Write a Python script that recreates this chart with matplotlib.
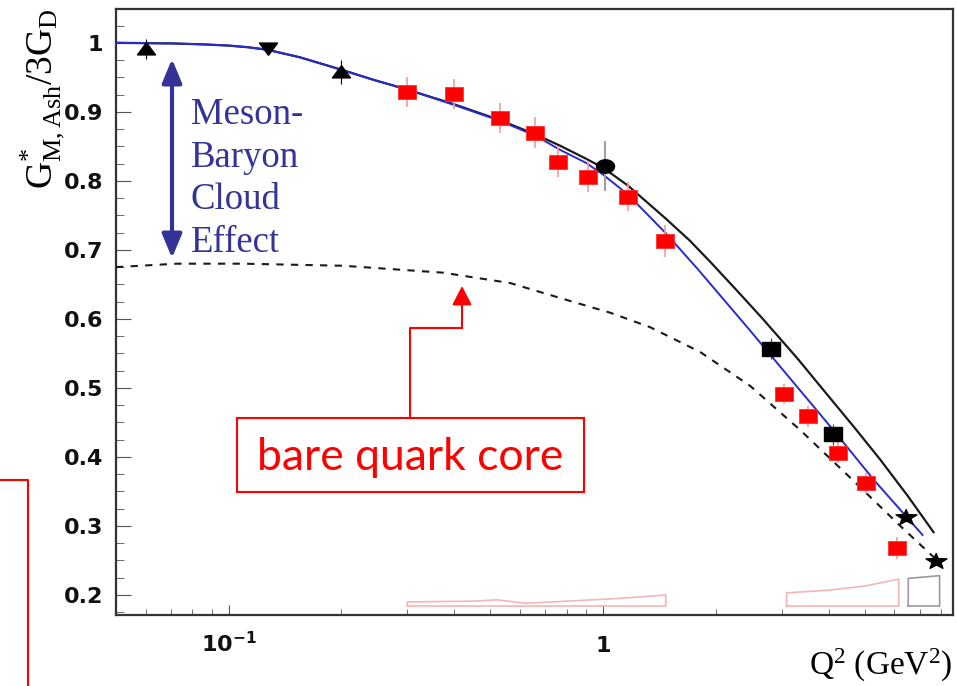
import numpy as np
import matplotlib.pyplot as plt
from matplotlib.patches import Rectangle
from matplotlib.lines import Line2D
from matplotlib.ticker import FixedLocator, MultipleLocator, LogLocator, NullFormatter

plt.rcParams['mathtext.fontset'] = 'custom'
plt.rcParams['mathtext.rm'] = 'Liberation Serif'
plt.rcParams['mathtext.it'] = 'Liberation Serif:italic'
plt.rcParams['mathtext.bf'] = 'DejaVu Sans:bold'

# --- data points ---
# MAMI / Bates (triangles)
q2_tri = [0.060, 0.200]
g_tri = [0.991, 0.958]
e_tri = [0.014, 0.017]
q2_tri_dn = [0.127]
g_tri_dn = [0.992]

# CLAS (red squares)
q2_clas = [0.30, 0.40, 0.53, 0.658, 0.758, 0.912, 1.166, 1.466, 3.05, 3.53, 4.25, 5.05, 6.11]
g_clas = [0.929, 0.926, 0.891, 0.870, 0.828, 0.806, 0.777, 0.713, 0.491, 0.459, 0.406, 0.362, 0.268]
e_clas = [0.022, 0.022, 0.022, 0.022, 0.022, 0.022, 0.021, 0.023, 0.015, 0.015, 0.015, 0.015, 0.016]

# Hall A (circle)
q2_halla = [1.01]
g_halla = [0.822]
e_halla = [0.036]

# Hall C (black squares)
q2_hallc = [2.80, 4.10]
g_hallc = [0.557, 0.433]
e_hallc = [0.015, 0.015]

# SLAC (stars)
q2_slac = [6.46, 7.77]
g_slac = [0.313, 0.249]

# --- model curves ---
q2_full = [0.05, 0.0706, 0.085, 0.10, 0.113, 0.127, 0.155, 0.20, 0.245, 0.301, 0.40, 0.53,
           0.662, 0.767, 0.901, 1.00, 1.166, 1.465, 1.70, 1.93, 2.26, 2.66, 3.3, 4.0, 4.7, 5.5,
           6.5, 7.63]
g_full = [1.000, 0.9991, 0.9978, 0.996, 0.9935, 0.9899, 0.979, 0.961, 0.946, 0.932, 0.911,
          0.888, 0.867, 0.851, 0.832, 0.819, 0.793, 0.746, 0.714, 0.683, 0.643, 0.601, 0.543,
          0.488, 0.442, 0.396, 0.344, 0.291]

q2_fit = [0.05, 0.0706, 0.085, 0.10, 0.113, 0.127, 0.155, 0.20, 0.245, 0.301, 0.40, 0.53,
          0.662, 0.767, 0.901, 1.00, 1.166, 1.465, 1.784, 2.10, 2.47, 3.2, 4.09, 5.3, 7.13]
g_fit = [1.000, 0.9991, 0.9978, 0.996, 0.9935, 0.9899, 0.979, 0.961, 0.946, 0.932, 0.910,
         0.887, 0.865, 0.845, 0.826, 0.809, 0.780, 0.725, 0.673, 0.628, 0.583, 0.510, 0.441,
         0.366, 0.287]

q2_bare = [0.05, 0.0726, 0.109, 0.202, 0.373, 0.564, 0.852, 1.044, 1.335, 1.817, 2.47, 3.36,
           4.57, 6.22, 7.77]
g_bare = [0.675, 0.680, 0.680, 0.677, 0.667, 0.652, 0.623, 0.609, 0.588, 0.552, 0.503, 0.439,
          0.370, 0.300, 0.251]

# --- systematic error bands ---
band1_x = [0.30, 0.30, 0.45, 0.52, 0.62, 0.80, 1.10, 1.47, 1.47, 0.30]
band1_y = [0.184, 0.190, 0.191, 0.193, 0.188, 0.191, 0.195, 0.200, 0.184, 0.184]
band2_x = [3.09, 3.09, 4.0, 5.0, 6.16, 6.16, 3.09]
band2_y = [0.184, 0.203, 0.207, 0.213, 0.223, 0.184, 0.184]
band3_x = [6.53, 6.53, 7.92, 7.92, 6.53]
band3_y = [0.184, 0.224, 0.228, 0.184, 0.184]

W, H = 957, 686
fig = plt.figure(figsize=(W / 100, H / 100), dpi=100)
ax = fig.add_axes([116 / W, 1 - 615 / H, (953 - 116) / W, (615 - 9) / H])


def px(x, y):
    return (x / W, 1 - y / H)


# stretched marker shapes (the plot is wider than tall)
sx = 1.3
m_square = [(-sx, -1), (sx, -1), (sx, 1), (-sx, 1), (-sx, -1)]
m_tri_up = [(0, 0.95), (-1.25, -0.75), (1.25, -0.75), (0, 0.95)]
m_tri_dn = [(0, -0.95), (-1.25, 0.75), (1.25, 0.75), (0, -0.95)]
t = np.linspace(0, 2 * np.pi, 40)
m_ellipse = list(zip(1.35 * np.cos(t), np.sin(t)))
ang = np.pi / 2 + np.arange(10) * np.pi / 5
rad = np.where(np.arange(10) % 2 == 0, 1.0, 0.42)
m_star = list(zip(sx * rad * np.cos(ang), rad * np.sin(ang)))

# bands
ax.plot(band1_x, band1_y, color='#f5b5b5', lw=1.2)
ax.plot(band2_x, band2_y, color='#f5b5b5', lw=1.2)
ax.plot(band3_x, band3_y, color='#9a9a9a', lw=1.2)

# curves
ax.plot(q2_full, g_full, color='#1a1a1a', lw=1.6, zorder=3)
ax.plot(q2_fit, g_fit, color='#2a2ad0', lw=1.4, zorder=3)
ax.plot(q2_bare, g_bare, color='#1a1a1a', lw=1.5, ls=(0, (3.5, 3.5)), zorder=3)

# data
ax.errorbar(q2_clas, g_clas, yerr=e_clas, fmt='none', ecolor='#f59a9a', elinewidth=1.2, zorder=4)
ax.plot(q2_clas, g_clas, ls='none', marker=m_square, ms=13, mfc='#ff0000', mec='#ff3030',
        mew=0.6, zorder=5)
ax.errorbar(q2_halla, g_halla, yerr=e_halla, fmt='none', ecolor='#a0a0a0', elinewidth=1.5, zorder=4)
ax.plot(q2_halla, g_halla, ls='none', marker=m_ellipse, ms=13, color='black', zorder=5)
ax.errorbar(q2_tri, g_tri, yerr=e_tri, fmt='none', ecolor='black', elinewidth=0.8, zorder=4)
ax.plot(q2_tri, g_tri, ls='none', marker=m_tri_up, ms=13, color='black', zorder=5)
ax.plot(q2_tri_dn, g_tri_dn, ls='none', marker=m_tri_dn, ms=13, color='black', zorder=5)
ax.errorbar(q2_hallc, g_hallc, yerr=e_hallc, fmt='none', ecolor='#404040', elinewidth=0.8, zorder=4)
ax.plot(q2_hallc, g_hallc, ls='none', marker=m_square, ms=13, color='black', zorder=5)
ax.plot(q2_slac, g_slac, ls='none', marker=m_star, ms=15, color='black', zorder=5)

# axes
ax.set_xscale('log')
ax.set_xlim(0.05, 8.6)
ax.set_ylim(0.171, 1.049)
ax.xaxis.set_major_locator(FixedLocator([0.1, 1]))
ax.set_xticklabels([r'$\mathbf{10^{-1}}$', r'$\mathbf{1}$'])
ax.xaxis.set_minor_locator(LogLocator(base=10, subs=np.arange(2, 10)))
ax.xaxis.set_minor_formatter(NullFormatter())
ax.yaxis.set_major_locator(FixedLocator([0.2, 0.3, 0.4, 0.5, 0.6, 0.7, 0.8, 0.9, 1.0]))
ax.set_yticklabels(['0.2', '0.3', '0.4', '0.5', '0.6', '0.7', '0.8', '0.9', '1'])
ax.yaxis.set_minor_locator(MultipleLocator(0.025))
ax.tick_params(axis='both', which='both', direction='in', colors='#555555',
               top=False, right=False, labelcolor='#111111')
ax.tick_params(axis='y', which='major', length=11, width=0.8, pad=9, labelsize=16)
ax.tick_params(axis='y', which='minor', length=5.5, width=0.6)
ax.tick_params(axis='x', which='major', length=7, width=0.8, pad=27, labelsize=16)
ax.tick_params(axis='x', which='minor', length=4.5, width=0.6)
for lbl in ax.get_yticklabels():
    lbl.set_fontweight('bold')
for lbl in ax.get_xticklabels():
    lbl.set_va('baseline')
for s in ax.spines.values():
    s.set_color('#333333')
    s.set_linewidth(1.6)

fig.text(*px(42, 8), r'$\mathrm{G^{*}_{M,Ash}/3G_{D}}$', rotation=90, ha='center', va='top',
         fontsize=27)
fig.text(*px(952, 665), r'$\mathrm{Q^{2}\ (GeV^{2})}$', ha='right', va='center', fontsize=24)

# meson cloud arrow and label
blue = '#333399'
for y0, y1 in [(158, 59), (158, 258)]:
    ax.annotate('', xy=(172, H - y1), xytext=(172, H - y0), xycoords='figure pixels',
                textcoords='figure pixels',
                arrowprops=dict(arrowstyle='-|>,head_length=0.72,head_width=0.3',
                                mutation_scale=20, lw=3, color=blue,
                                shrinkA=0, shrinkB=0))
fig.text(*px(191, 98), 'Meson-\nBaryon\nCloud\nEffect', ha='left', va='top', color=blue,
         fontsize=26.5, family='Liberation Serif', linespacing=1.3)

# bare quark core callout
red = '#ff0000'
fig.add_artist(Rectangle(px(237, 492), (584 - 237) / W, (492 - 418) / H,
                         transform=fig.transFigure, fill=False, ec=red, lw=1.5))
fig.text(*px(410, 457), 'bare quark core', ha='center', va='center', color=red,
         fontsize=32, family='Lato')
fig.add_artist(Line2D([410 / W, 410 / W, 462 / W], [1 - 418 / H, 1 - 328 / H, 1 - 328 / H],
                      transform=fig.transFigure, color=red, lw=1.5))
ax.annotate('', xy=(462, H - 286), xytext=(462, H - 328), xycoords='figure pixels',
            textcoords='figure pixels',
            arrowprops=dict(arrowstyle='-|>,head_length=0.58,head_width=0.3',
                            mutation_scale=20, lw=1.5, color=red, shrinkA=0, shrinkB=0))

# partial frame at lower left
fig.add_artist(Line2D([0, 28 / W, 28 / W], [1 - 480 / H, 1 - 480 / H, 0],
                      transform=fig.transFigure, color=red, lw=1.5))

fig.savefig('out.png', dpi=100)
